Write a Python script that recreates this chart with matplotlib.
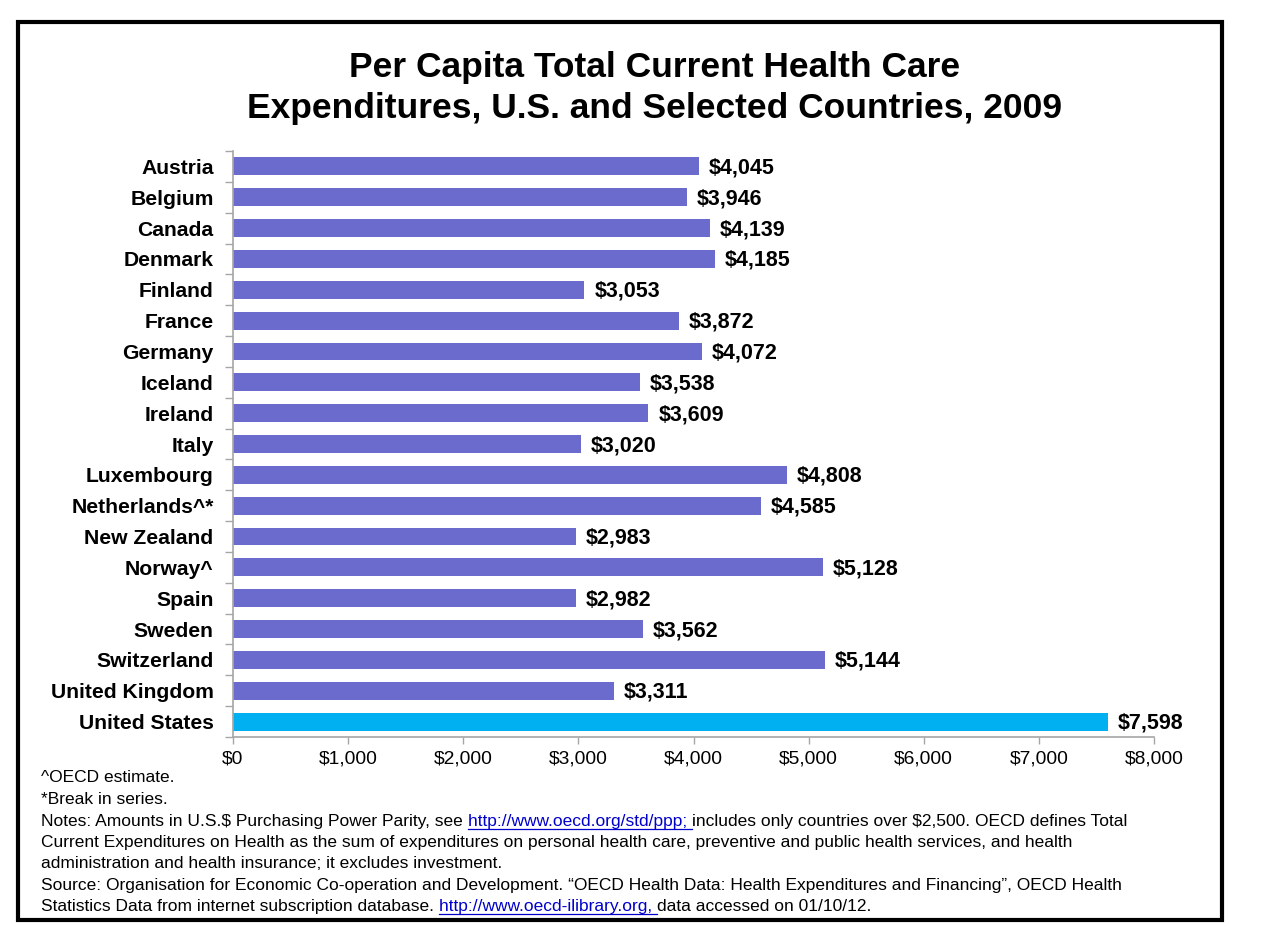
import matplotlib.pyplot as plt
from matplotlib.lines import Line2D
from matplotlib.patches import Rectangle

plt.rcParams["font.family"] = ["Liberation Sans", "DejaVu Sans"]

COUNTRIES = ["Austria", "Belgium", "Canada", "Denmark", "Finland", "France",
             "Germany", "Iceland", "Ireland", "Italy", "Luxembourg",
             "Netherlands^*", "New Zealand", "Norway^", "Spain", "Sweden",
             "Switzerland", "United Kingdom", "United States"]
SPENDING = [4045, 3946, 4139, 4185, 3053, 3872, 4072, 3538, 3609, 3020,
            4808, 4585, 2983, 5128, 2982, 3562, 5144, 3311, 7598]
X_TICKS = [0, 1000, 2000, 3000, 4000, 5000, 6000, 7000, 8000]

PURPLE = "#6B6BCD"
US_BLUE = "#00B0F0"
GRAY = "#A6A6A6"
LINK = "#0000CC"

W, H = 1265, 938
fig = plt.figure(figsize=(W / 100, H / 100), dpi=100)
ax = fig.add_axes([233 / W, 1 - 737 / H, (1154 - 233) / W, (737 - 151) / H])

ypos = list(range(len(COUNTRIES)))
colors = [US_BLUE if c == "United States" else PURPLE for c in COUNTRIES]
ax.barh(ypos, SPENDING, height=0.58, color=colors)
for y, v in zip(ypos, SPENDING):
    ax.text(v + 85, y + 0.05, f"${v:,}", va="center", ha="left",
            fontsize=15.5, fontweight="bold")

ax.set_ylim(len(COUNTRIES) - 0.5, -0.5)
ax.set_xlim(0, 8000)
ax.set_yticks(ypos)
ax.set_yticklabels(COUNTRIES, fontsize=15.2, fontweight="bold")
ax.tick_params(axis="y", which="major", length=0, pad=14)
ax.set_yticks([i - 0.5 for i in range(len(COUNTRIES) + 1)], minor=True)
ax.tick_params(axis="y", which="minor", length=6, color=GRAY, width=1)
ax.set_xticks(X_TICKS)
ax.set_xticklabels([f"${t:,}" for t in X_TICKS], fontsize=13.9)
ax.tick_params(axis="x", length=5, color=GRAY, width=1, pad=5)
for side in ("top", "right"):
    ax.spines[side].set_visible(False)
for side in ("left", "bottom"):
    ax.spines[side].set_color(GRAY)
    ax.spines[side].set_linewidth(1.2)

fig.text(655 / W, 1 - 88 / H,
         "Per Capita Total Current Health Care\n"
         "Expenditures, U.S. and Selected Countries, 2009",
         ha="center", va="center", fontsize=25.5, fontweight="bold",
         linespacing=1.28)

# ── footnotes ────────────────────────────────────────────────────────────────
NOTE_LINES = [
    [("^OECD estimate.", False)],
    [("*Break in series.", False)],
    [("Notes: Amounts in U.S.$ Purchasing Power Parity, see ", False),
     ("http://www.oecd.org/std/ppp; ", True),
     ("includes only countries over $2,500. OECD defines Total", False)],
    [("Current Expenditures on Health as the sum of expenditures on personal "
      "health care, preventive and public health services, and health", False)],
    [("administration and health insurance; it excludes investment.", False)],
    [("Source: Organisation for Economic Co-operation and Development. "
      "\u201cOECD Health Data: Health Expenditures and Financing\u201d, OECD Health",
      False)],
    [("Statistics Data from internet subscription database. ", False),
     ("http://www.oecd-ilibrary.org, ", True),
     ("data accessed on 01/10/12.", False)],
]
NOTE_Y = [776, 798, 820, 841, 862, 884, 905]

renderer = fig.canvas.get_renderer()
for y, segs in zip(NOTE_Y, NOTE_LINES):
    x = 41
    yb = 1 - (y + 6) / H
    for txt, is_link in segs:
        col = LINK if is_link else "black"
        t = fig.text(x / W, yb, txt, ha="left", va="baseline",
                     fontsize=12.5, color=col)
        bb = t.get_window_extent(renderer)
        if is_link:
            uy = yb - 2.5 / H
            fig.add_artist(Line2D([bb.x0 / W, bb.x1 / W], [uy, uy],
                                  color=LINK, lw=0.9,
                                  transform=fig.transFigure))
        x = bb.x1

fig.add_artist(Rectangle((18 / W, 1 - 920 / H), (1222 - 18) / W,
                         (920 - 22) / H, fill=False, edgecolor="black",
                         lw=3, transform=fig.transFigure))

fig.savefig("out.png", dpi=100)
